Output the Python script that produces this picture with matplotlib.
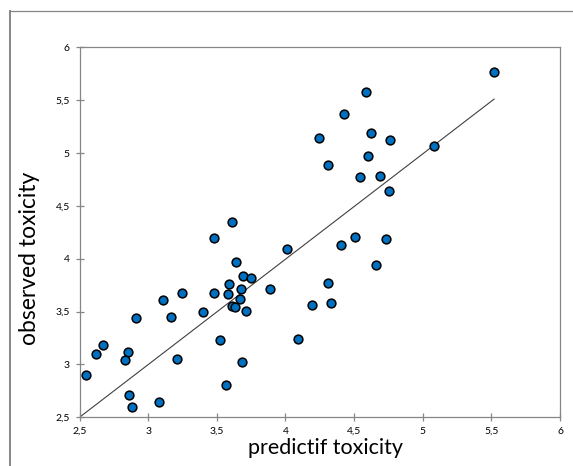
"""Observed vs predicted toxicity scatter, Excel-like styling."""

import matplotlib
matplotlib.use("Agg")
import matplotlib.pyplot as plt
from matplotlib.lines import Line2D
from matplotlib.ticker import FuncFormatter, MultipleLocator

# predicted (x) and observed (y) toxicity
predicted = [
    5.52, 4.59, 4.43, 4.245, 4.62, 4.765, 5.08, 4.60, 4.31, 4.54, 4.69, 4.755,
    4.405, 4.51, 4.73, 4.66, 4.31, 4.19, 4.33, 4.09,
    3.61, 3.48, 4.01, 3.64, 3.69, 3.75, 3.59, 3.68, 3.89, 3.25, 3.48, 3.585,
    3.105, 3.67, 3.71, 3.61, 3.635, 3.40, 3.17, 2.91, 3.525, 2.67, 2.62, 2.85,
    2.83, 3.21, 3.685, 2.55, 2.86, 3.57, 3.08, 2.88,
]
observed = [
    5.77, 5.58, 5.37, 5.14, 5.19, 5.12, 5.07, 4.97, 4.89, 4.77, 4.78, 4.64,
    4.13, 4.21, 4.19, 3.94, 3.77, 3.56, 3.58, 3.24,
    4.35, 4.20, 4.09, 3.97, 3.84, 3.815, 3.76, 3.71, 3.71, 3.68, 3.68, 3.67,
    3.61, 3.62, 3.51, 3.55, 3.54, 3.50, 3.45, 3.44, 3.23, 3.18, 3.10, 3.12,
    3.04, 3.05, 3.02, 2.90, 2.71, 2.81, 2.64, 2.595,
]
# reference line y = x
line_x = [2.5, 5.52]
line_y = [2.5, 5.51]

x_lim = (2.5, 6)
y_lim = (2.5, 6)
tick_step = 0.5

FRAME = "#868686"
plt.rcParams["font.family"] = ["Lato", "DejaVu Sans"]

fig = plt.figure(figsize=(5.73, 4.66), dpi=100)
ax = fig.add_axes([79.5 / 573, 1 - 417.3 / 466, (560 - 79.5) / 573, (417.3 - 47.3) / 466])

ax.plot(line_x, line_y, color="#404040", lw=0.8, zorder=2)
ax.plot(predicted, observed, "o", ms=6.3, mfc="#0070C0", mec="black", mew=1.1,
        zorder=3, clip_on=False)

ax.set_xlim(*x_lim)
ax.set_ylim(*y_lim)
ax.xaxis.set_major_locator(MultipleLocator(tick_step))
ax.yaxis.set_major_locator(MultipleLocator(tick_step))
comma = FuncFormatter(lambda v, _: f"{v:g}".replace(".", ","))
ax.xaxis.set_major_formatter(comma)
ax.yaxis.set_major_formatter(comma)

for s in ax.spines.values():
    s.set_color(FRAME)
    s.set_linewidth(0.9)
ax.tick_params(direction="inout", length=6, width=0.9, color=FRAME,
               labelsize=7.5, labelcolor="black")
ax.tick_params(axis="x", pad=4)
ax.tick_params(axis="y", pad=4)

ax.set_xlabel("predictif toxicity", fontsize=15.5)
ax.set_ylabel("observed toxicity", fontsize=16.5)
ax.xaxis.set_label_coords(0.512, -0.057)
ax.yaxis.set_label_coords(-0.082, 0.43)

# outer chart-area border (left and top only are visible)
fig.add_artist(Line2D([10 / 573, 10 / 573], [0, 1 - 11 / 466],
                      transform=fig.transFigure, color=FRAME, lw=1.4))
fig.add_artist(Line2D([10 / 573, 1], [1 - 11 / 466, 1 - 11 / 466],
                      transform=fig.transFigure, color=FRAME, lw=0.9))

fig.savefig("out.png", dpi=100)
